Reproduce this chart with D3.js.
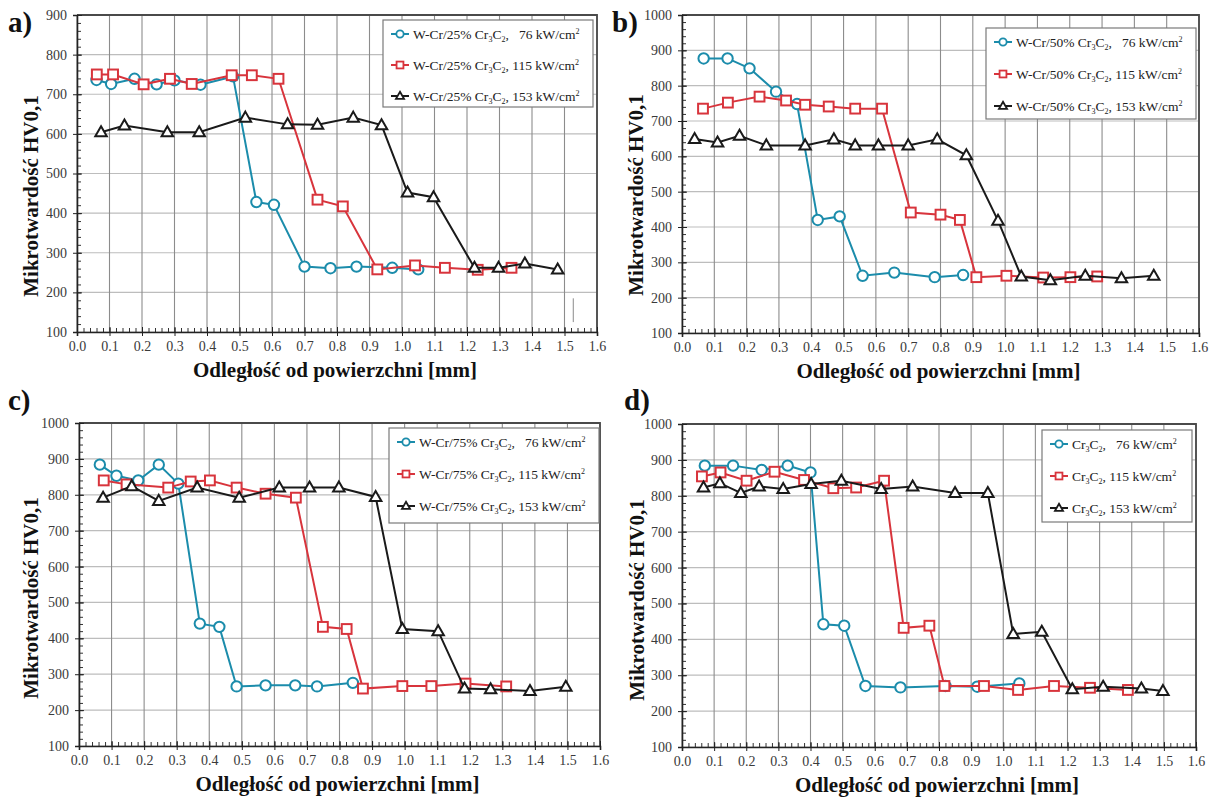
<!DOCTYPE html>
<html><head><meta charset="utf-8">
<script src="https://cdn.jsdelivr.net/npm/d3@7"></script>
<style>body{margin:0;background:#fff}svg{display:block}</style>
</head><body>
<svg id="c" width="1225" height="799"></svg>
<script>
// ---------- DATA ----------
const xTicks = [0.0,0.1,0.2,0.3,0.4,0.5,0.6,0.7,0.8,0.9,1.0,1.1,1.2,1.3,1.4,1.5,1.6];
const yTicksA = [100,200,300,400,500,600,700,800,900];
const yTicksB = [100,200,300,400,500,600,700,800,900,1000];
const powers = ["76","115","153"];
const compositions = ["W-Cr/25% ", "W-Cr/50% ", "W-Cr/75% ", ""];
const panelLabels = ["a)","b)","c)","d)"];

const a76x = [0.06,0.105,0.177,0.245,0.30,0.38,0.48,0.552,0.606,0.70,0.78,0.86,0.97,1.05];
const a76y = [736,726,739,725,735,724,745,428,421,265,261,265,262,258];
const a115x = [0.061,0.111,0.205,0.286,0.353,0.476,0.538,0.62,0.74,0.818,0.924,1.04,1.132,1.233,1.337];
const a115y = [750,750,725,739,726,748,748,739,434,417,258,268,262,257,262];
const a153x = [0.074,0.146,0.278,0.376,0.518,0.648,0.74,0.85,0.937,1.017,1.097,1.223,1.297,1.378,1.479];
const a153y = [604,621,604,604,641,624,623,641,622,452,440,262,262,273,258];
const aMark = [1.527,125,185];

const b76x = [0.067,0.141,0.209,0.291,0.356,0.42,0.488,0.559,0.657,0.782,0.87];
const b76y = [877,877,849,783,748,420,430,262,271,258,264];
const b115x = [0.065,0.142,0.24,0.322,0.381,0.454,0.536,0.619,0.708,0.80,0.86,0.911,1.004,1.118,1.202,1.285];
const b115y = [735,752,769,758,746,741,735,735,441,435,420,258,262,257,258,260];
const b153x = [0.039,0.11,0.178,0.261,0.381,0.47,0.536,0.608,0.70,0.79,0.88,0.978,1.05,1.14,1.248,1.36,1.46];
const b153y = [649,639,658,631,631,648,631,631,631,648,603,418,260,249,262,255,262];

const c76x = [0.064,0.115,0.182,0.245,0.305,0.371,0.431,0.484,0.573,0.664,0.731,0.841];
const c76y = [884,853,840,884,831,441,432,266,269,269,266,276];
const c115x = [0.076,0.146,0.274,0.343,0.402,0.484,0.573,0.666,0.749,0.822,0.872,0.993,1.082,1.187,1.312];
const c115y = [840,829,820,837,840,820,803,792,432,426,260,267,267,274,266];
const c153x = [0.074,0.162,0.245,0.363,0.492,0.615,0.708,0.798,0.911,0.993,1.103,1.184,1.264,1.385,1.495];
const c153y = [792,824,783,820,792,820,820,820,794,426,420,260,258,253,265];

const d76x = [0.071,0.159,0.248,0.329,0.40,0.44,0.505,0.571,0.68,0.82,0.919,1.05];
const d76y = [884,884,872,884,865,442,438,270,266,270,268,277];
const d115x = [0.062,0.12,0.201,0.288,0.38,0.471,0.542,0.629,0.69,0.77,0.817,0.94,1.046,1.158,1.27,1.388];
const d115y = [854,865,842,867,844,821,823,842,432,438,270,270,259,270,265,259];
const d153x = [0.067,0.118,0.183,0.24,0.315,0.402,0.496,0.62,0.718,0.85,0.952,1.031,1.12,1.215,1.311,1.43,1.497];
const d153y = [823,835,808,826,819,833,842,819,826,808,808,415,421,261,268,263,256];

// ---------- LAYOUT ----------
const colors = ["#1b8cab","#d8343c","#1a1a1a"];
const shapes = ["circle","square","triangle"];
const FONT = "Liberation Serif, Times New Roman, serif";

const panels = [
  {label:0, comp:0, box:[77,597,15,332], yDom:[100,900], yTicks:yTicksA,
   series:[[a76x,a76y],[a115x,a115y],[a153x,a153y]], leg:[383,20,210,87], lab:[8,32], ytitle:[31,196]},
  {label:1, comp:1, box:[682,1199,15,333], yDom:[100,1000], yTicks:yTicksB,
   series:[[b76x,b76y],[b115x,b115y],[b153x,b153y]], leg:[986,28,210,91], lab:[612,32], ytitle:[636,195]},
  {label:2, comp:2, box:[79,600,423,746], yDom:[100,1000], yTicks:yTicksB,
   series:[[c76x,c76y],[c115x,c115y],[c153x,c153y]], leg:[389,428,210,95], lab:[8,410], ytitle:[31,598]},
  {label:3, comp:3, box:[682,1196,424,747], yDom:[100,1000], yTicks:yTicksB,
   series:[[d76x,d76y],[d115x,d115y],[d153x,d153y]], leg:[1042,430,150,92], lab:[624,410], ytitle:[637,600]}
];

const svg = d3.select("#c");

function marker(g, shape, cx, cy, size, color, sw){
  if(shape==="circle"){
    g.append("circle").attr("cx",cx).attr("cy",cy).attr("r",size*0.52)
      .attr("fill","#fff").attr("stroke",color).attr("stroke-width",sw);
  } else if(shape==="square"){
    const s=size*0.98;
    g.append("rect").attr("x",cx-s/2).attr("y",cy-s/2).attr("width",s).attr("height",s)
      .attr("fill","#fff").attr("stroke",color).attr("stroke-width",sw);
  } else {
    const s=size*1.15, h=s*0.87;
    g.append("path").attr("d",`M${cx},${cy-h*0.6}L${cx+s/2},${cy+h*0.4}L${cx-s/2},${cy+h*0.4}Z`)
      .attr("fill","#fff").attr("stroke",color).attr("stroke-width",sw).attr("stroke-linejoin","miter");
  }
}

function legendText(t, comp, power){
  const base = compositions[comp];
  t.append("tspan").text(base + "Cr");
  t.append("tspan").text("3").attr("font-size","8px").attr("dy",3);
  t.append("tspan").text("C").attr("dy",-3);
  t.append("tspan").text("2").attr("font-size","8px").attr("dy",3);
  t.append("tspan").text(power==="76" ? ",\u00a0\u00a0\u00a0" : ", ").attr("dy",-3);
  t.append("tspan").text(power + " kW/cm");
  t.append("tspan").text("2").attr("font-size","8px").attr("dy",-5);
}

panels.forEach(p=>{
  const [L,R,T,B] = p.box;
  const x = d3.scaleLinear().domain([0,1.6]).range([L,R]);
  const y = d3.scaleLinear().domain(p.yDom).range([B,T]);
  const g = svg.append("g");

  // horizontal grid
  g.append("g").selectAll("line").data(p.yTicks).join("line")
    .attr("x1",L).attr("x2",R).attr("y1",d=>y(d)).attr("y2",d=>y(d))
    .attr("stroke","#bdbdbd").attr("stroke-width",1.2);
  // vertical grid
  g.append("g").selectAll("line").data(xTicks).join("line")
    .attr("x1",d=>x(d)).attr("x2",d=>x(d)).attr("y1",T).attr("y2",B)
    .attr("stroke","#8c8c8c").attr("stroke-width",1.1);
  // frame top/right
  g.append("path").attr("d",`M${L},${T}H${R}V${B}`).attr("fill","none")
    .attr("stroke","#4a4a4a").attr("stroke-width",1.8);

  // x axis
  const xMinor = d3.range(0,1.6001,0.02);
  g.append("g").attr("transform",`translate(0,${B})`)
    .call(d3.axisBottom(x).tickValues(xMinor).tickSize(-4).tickFormat(""))
    .call(s=>{s.select(".domain").remove(); s.selectAll("line").attr("stroke","#333");});
  g.append("g").attr("transform",`translate(0,${B})`)
    .call(d3.axisBottom(x).tickValues(xTicks).tickSize(4).tickPadding(5).tickFormat(d3.format(".1f")))
    .call(s=>{
      s.attr("font-family",null);
      s.select(".domain").attr("stroke","#222").attr("stroke-width",1.6);
      s.selectAll("line").attr("stroke","#222").attr("y1",-5);
      s.selectAll("text").style("font-family",FONT).style("font-size","14px").attr("fill","#3a3a3a");
    });

  // y axis
  const yMinor = d3.range(p.yDom[0],p.yDom[1]+0.1,20);
  g.append("g").attr("transform",`translate(${L},0)`)
    .call(d3.axisLeft(y).tickValues(yMinor).tickSize(-4).tickFormat(""))
    .call(s=>{s.select(".domain").remove(); s.selectAll("line").attr("stroke","#333");});
  g.append("g").attr("transform",`translate(${L},0)`)
    .call(d3.axisLeft(y).tickValues(p.yTicks).tickSize(4).tickPadding(6).tickFormat(d3.format("d")))
    .call(s=>{
      s.attr("font-family",null);
      s.select(".domain").attr("stroke","#222").attr("stroke-width",1.6);
      s.selectAll("line").attr("stroke","#222").attr("x1",5);
      s.selectAll("text").style("font-family",FONT).style("font-size","14px").attr("fill","#3a3a3a");
    });

  // artifact mark in panel a
  if(p.label===0){
    g.append("line").attr("x1",x(aMark[0])).attr("x2",x(aMark[0]))
      .attr("y1",y(aMark[1])).attr("y2",y(aMark[2])).attr("stroke","#8a8a8a").attr("stroke-width",1);
  }

  // series
  const line = d3.line().x(d=>x(d[0])).y(d=>y(d[1]));
  p.series.forEach((s,i)=>{
    const pts = s[0].map((v,k)=>[v,s[1][k]]);
    g.append("path").datum(pts).attr("d",line).attr("fill","none")
      .attr("stroke",colors[i]).attr("stroke-width",2);
    pts.forEach(pt=>marker(g,shapes[i],x(pt[0]),y(pt[1]),10,colors[i],2));
  });

  // legend
  const [lx,ly,lw,lh] = p.leg;
  const lg = svg.append("g");
  lg.append("rect").attr("x",lx).attr("y",ly).attr("width",lw).attr("height",lh)
    .attr("fill","#fff").attr("stroke","#7a7a7a").attr("stroke-width",1.2);
  powers.forEach((pw,i)=>{
    const cy = ly + 14 + i*31 + (lh>90?1:0)*i;
    lg.append("line").attr("x1",lx+8).attr("x2",lx+26).attr("y1",cy).attr("y2",cy)
      .attr("stroke",colors[i]).attr("stroke-width",2);
    marker(lg,shapes[i],lx+17,cy,7,colors[i],1.8);
    const t = lg.append("text").attr("x",lx+30).attr("y",cy+4.5)
      .style("font-family",FONT).style("font-size","13.5px").attr("fill","#222");
    legendText(t,p.comp,pw);
  });

  // titles
  svg.append("text").attr("x",p.lab[0]).attr("y",p.lab[1]).text(panelLabels[p.label])
    .style("font-family",FONT).attr("font-weight","bold").style("font-size","29px").attr("fill","#111");
  svg.append("text").attr("transform",`translate(${p.ytitle[0]+7},${p.ytitle[1]}) rotate(-90)`)
    .attr("text-anchor","middle").text("Mikrotwardość HV0,1")
    .style("font-family",FONT).attr("font-weight","bold").style("font-size","21px").attr("fill","#111");
  svg.append("text").attr("x",(L+R)/2 - 2).attr("y",B+45).attr("text-anchor","middle")
    .text("Odległość od powierzchni [mm]")
    .style("font-family",FONT).attr("font-weight","bold").style("font-size","21px").attr("fill","#111");
});
</script>
</body></html>
